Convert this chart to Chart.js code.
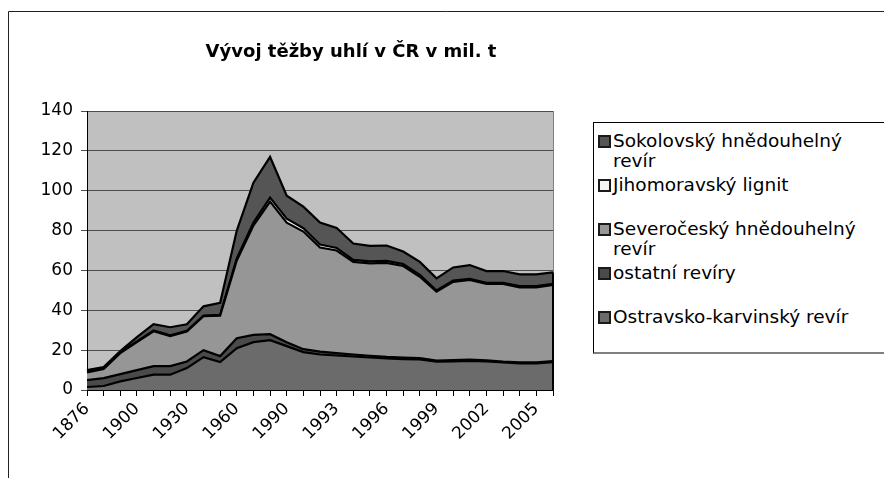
<!DOCTYPE html>
<html>
<head>
<meta charset="utf-8">
<script src="https://cdn.jsdelivr.net/npm/chart.js@4/dist/chart.umd.min.js"></script>
<style>
  html, body { margin: 0; padding: 0; background: #fff; }
  body { width: 884px; height: 478px; overflow: hidden; position: relative; }
  #chart { position: absolute; left: 0; top: 0; }
  #legend {
    position: absolute; left: 593px; top: 122px; width: 400px; height: 229px;
    border: 1px solid #000; border-bottom: 2px solid #808080; border-right: none;
    background: #fff; font-family: "DejaVu Sans", sans-serif; font-size: 18.5px;
    color: #000;
  }
  .item { position: absolute; left: 0; height: 44px; }
  .sw {
    position: absolute; left: 4px; top: 4px; width: 9px; height: 9px;
    border: 2px solid #1a1a1a;
  }
  .txt { position: absolute; left: 19px; top: 0; width: 262px; line-height: 20px; }
</style>
</head>
<body>
<canvas id="chart" width="884" height="478"></canvas>
<div id="legend"></div>
<script>
// Roky (kategorie osy x)
const years = ['1876', '1880', '1890', '1900', '1910', '1920', '1930', '1940', '1950', '1960',
  '1970', '1980', '1990', '1991', '1992', '1993', '1994', '1995', '1996', '1997', '1998',
  '1999', '2000', '2001', '2002', '2003', '2004', '2005', '2006'];

// Těžba v mil. t
const ostravsko = [1.5, 2, 4.3, 6, 7.7, 7.7, 11, 16.5, 14, 21, 24, 25, 22, 19, 17.8, 17.3, 16.8,
  16.3, 15.8, 15.5, 15.3, 14.2, 14.4, 14.6, 14.3, 13.8, 13.4, 13.4, 14];
const ostatni = [3.5, 4, 3.7, 4, 4.3, 4.3, 3.3, 3.5, 3, 5, 3.7, 3, 2, 1.5, 1.5, 1.2, 1, 0.9, 0.8,
  0.8, 0.7, 0.6, 0.6, 0.6, 0.6, 0.5, 0.5, 0.5, 0.5];
const severocesky = [3.8, 4.5, 10.5, 14, 17.5, 15, 15, 17, 20.3, 39, 54.8, 66.5, 60, 59, 52.2,
  51.5, 46.5, 46.3, 47.2, 45.9, 40.8, 34.5, 39.3, 40, 38.3, 38.9, 37.6, 37.6, 38.2];
const jihomoravsky = [0.4, 0.4, 0.4, 0.4, 0.4, 0.4, 0.4, 0.4, 0.4, 1, 1.5, 2, 2, 1.7, 1.5, 1.3,
  1, 1, 1, 1, 1, 0.6, 0.6, 0.6, 0.6, 0.6, 0.6, 0.6, 0.6];
const sokolovsky = [0.8, 0.6, 0.6, 2.1, 3.1, 4.1, 3.3, 4.6, 6.1, 14, 20, 20.5, 11.5, 10.8, 11, 10,
  8.2, 7.8, 7.7, 6.3, 6.5, 6.1, 6.6, 6.9, 5.9, 5.9, 5.9, 5.9, 5.7];

const seriesNames = ['Ostravsko-karvinský revír', 'ostatní revíry', 'Severočeský hnědouhelný revír',
  'Jihomoravský lignit', 'Sokolovský hnědouhelný revír'];
const seriesColors = ['#6b6b6b', '#4a4a4a', '#969696', '#f4f4f4', '#555555'];
const seriesData = [ostravsko, ostatni, severocesky, jihomoravsky, sokolovsky];

const chartTitle = 'Vývoj těžby uhlí v ČR v mil. t';
const font = 'DejaVu Sans';

// pozadí, rámeček a nadpis
const decor = {
  id: 'decor',
  beforeDraw(chart) {
    const { ctx, chartArea: a } = chart;
    ctx.save();
    ctx.fillStyle = '#fff';
    ctx.fillRect(0, 0, chart.width, chart.height);
    ctx.strokeStyle = '#222';
    ctx.lineWidth = 1;
    ctx.beginPath();
    ctx.moveTo(8.5, chart.height + 5);
    ctx.lineTo(8.5, 11.5);
    ctx.lineTo(chart.width + 5, 11.5);
    ctx.stroke();
    ctx.fillStyle = '#c0c0c0';
    ctx.fillRect(a.left, a.top, a.right - a.left, a.bottom - a.top);
    ctx.strokeStyle = '#808080';
    ctx.strokeRect(a.left + 0.5, a.top + 0.5, a.right - a.left, a.bottom - a.top);
    ctx.fillStyle = '#000';
    ctx.font = 'bold 18px "' + font + '"';
    ctx.textAlign = 'center';
    ctx.textBaseline = 'middle';
    ctx.fillText(chartTitle, 351, 52);
    ctx.restore();
  },
  afterDatasetsDraw(chart) {
    // svislá hrana plochy na konci
    const { ctx } = chart;
    const xs = chart.scales.x, ys = chart.scales.y;
    const last = years.length - 1;
    let total = 0;
    seriesData.forEach(d => total += d[last]);
    ctx.save();
    ctx.strokeStyle = '#000';
    ctx.lineWidth = 2;
    ctx.beginPath();
    ctx.moveTo(xs.getPixelForValue(last), ys.getPixelForValue(total));
    ctx.lineTo(xs.getPixelForValue(last), ys.getPixelForValue(0));
    ctx.stroke();
    ctx.restore();
  }
};

const datasets = seriesData.map((d, i) => ({
  label: seriesNames[i],
  data: d,
  backgroundColor: seriesColors[i],
  borderColor: '#000',
  borderWidth: 2.2,
  pointRadius: 0,
  tension: 0,
  fill: i === 0 ? 'origin' : '-1'
}));

new Chart(document.getElementById('chart'), {
  type: 'line',
  data: { labels: years, datasets: datasets },
  plugins: [decor],
  options: {
    responsive: false,
    animation: false,
    devicePixelRatio: 1,
    layout: { padding: { left: 0, right: 331, top: 111, bottom: 0 } },
    plugins: {
      legend: { display: false },
      title: { display: false },
      tooltip: { enabled: false }
    },
    scales: {
      x: {
        offset: false,
        grid: { drawOnChartArea: false, drawTicks: true, tickLength: 6, color: '#000' },
        border: { color: '#000', width: 1 },
        ticks: {
          autoSkip: false, minRotation: 45, maxRotation: 45, padding: 3,
          color: '#000', font: { family: font, size: 17 },
          callback: (v, i) => i % 3 === 0 ? years[i] : ''
        },
        afterFit: s => { s.height = 88; }
      },
      y: {
        stacked: true,
        min: 0, max: 140,
        grid: { color: '#4d4d4d', lineWidth: 1, tickLength: 6 },
        border: { color: '#000', width: 1 },
        ticks: {
          stepSize: 20, padding: 8, color: '#000',
          font: { family: font, size: 17 }
        },
        afterFit: s => { s.width = 87; }
      }
    }
  }
});

// legenda (nejvyšší řada nahoře, jako v Excelu)
const legend = document.getElementById('legend');
for (let k = seriesNames.length - 1, n = 0; k >= 0; k--, n++) {
  const item = document.createElement('div');
  item.className = 'item';
  item.style.top = (8 + n * 44) + 'px';
  const sw = document.createElement('div');
  sw.className = 'sw';
  sw.style.background = seriesColors[k];
  const txt = document.createElement('div');
  txt.className = 'txt';
  txt.textContent = seriesNames[k];
  item.appendChild(sw);
  item.appendChild(txt);
  legend.appendChild(item);
}
</script>
</body>
</html>
